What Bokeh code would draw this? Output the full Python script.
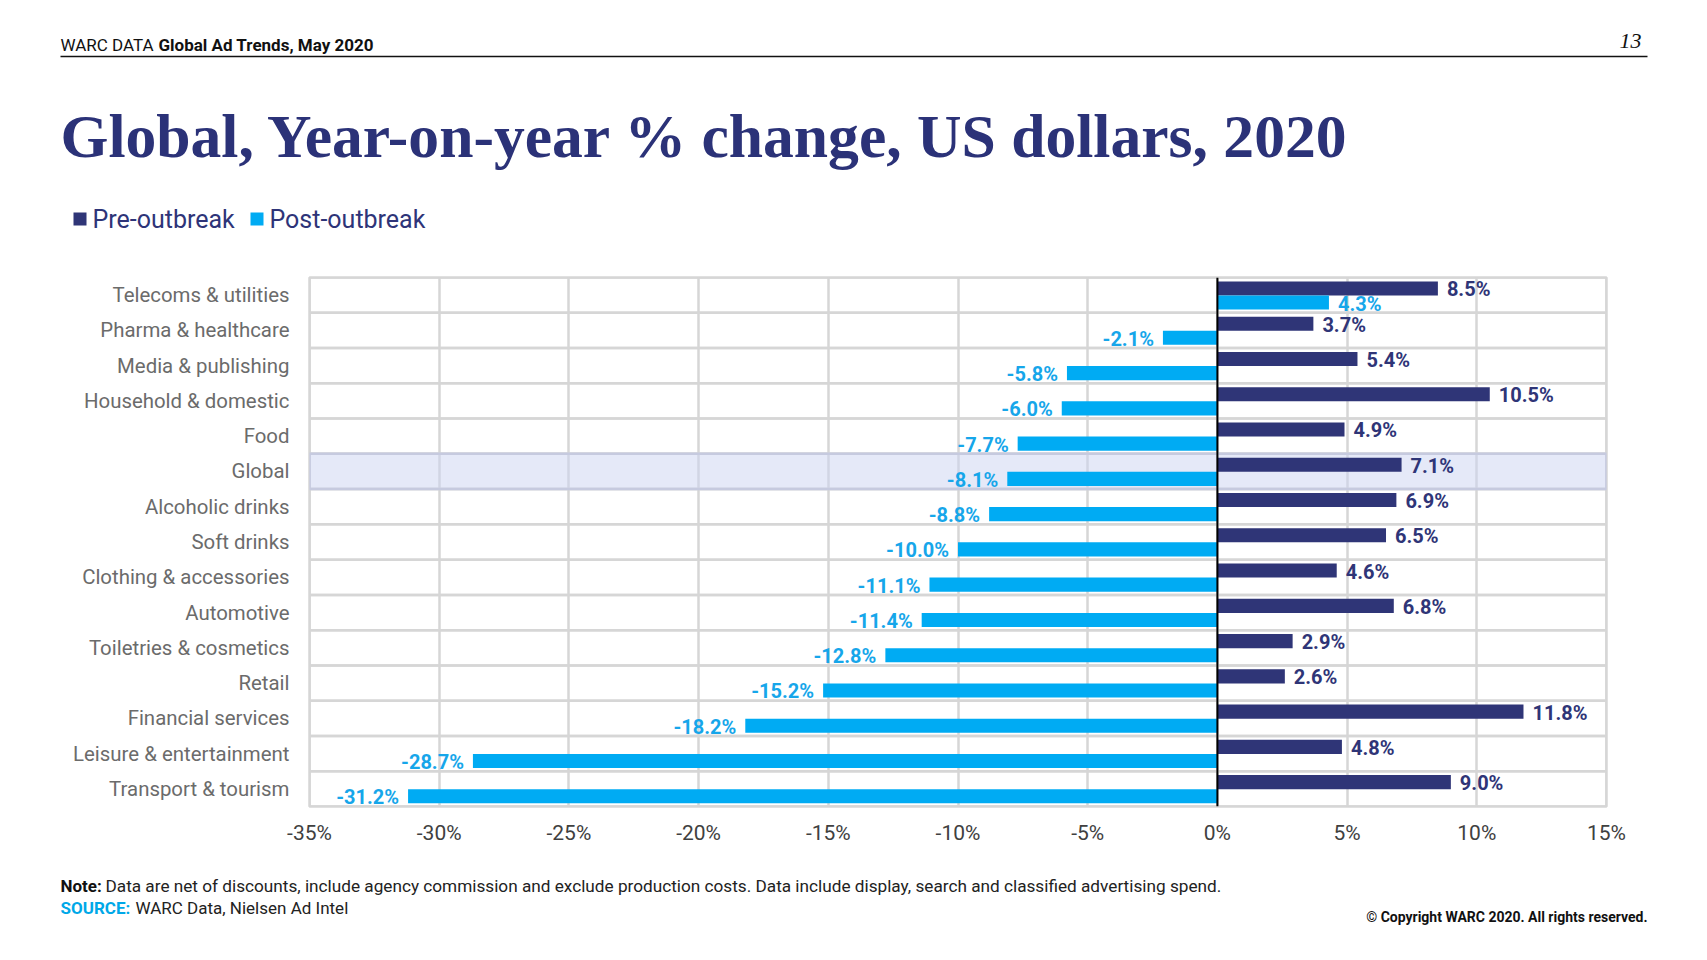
from bokeh.plotting import figure
from bokeh.models import ColumnDataSource, FactorRange, FixedTicker, Span, Range1d
from bokeh.transform import dodge
from bokeh.core.properties import value
from bokeh.embed import file_html
from bokeh.resources import INLINE

# ---------------- data ----------------
categories = [
    "Telecoms & utilities", "Pharma & healthcare", "Media & publishing",
    "Household & domestic", "Food", "Global", "Alcoholic drinks", "Soft drinks",
    "Clothing & accessories", "Automotive", "Toiletries & cosmetics", "Retail",
    "Financial services", "Leisure & entertainment", "Transport & tourism",
]
pre_outbreak = [8.5, 3.7, 5.4, 10.5, 4.9, 7.1, 6.9, 6.5, 4.6, 6.8, 2.9, 2.6, 11.8, 4.8, 9.0]
post_outbreak = [4.3, -2.1, -5.8, -6.0, -7.7, -8.1, -8.8, -10.0, -11.1, -11.4, -12.8, -15.2, -18.2, -28.7, -31.2]
series_names = ["Pre-outbreak", "Post-outbreak"]
tick_values = [-35, -30, -25, -20, -15, -10, -5, 0, 5, 10, 15]
tick_labels = ["-35%", "-30%", "-25%", "-20%", "-15%", "-10%", "-5%", "0%", "5%", "10%", "15%"]
highlight = "Global"
x_min, x_max = -35, 15

# ---------------- styles ----------------
NAVY = "#2f3577"
BLUE = "#00abf3"
BLUE_TXT = "#16a6ea"
GRID = "#d6d6d6"
W = 1691
H_HEAD, H_MAIN, H_FOOT = 267, 589, 88
FL, FR = 309, 1606          # frame left / right (px)
F_TOP, F_H = 10, 529        # frame top inside main figure, frame height
LEFT = 60                   # page text left edge
RIGHT = 1647                # page text right edge


def canvas(h):
    """A plain figure whose data units are pixels (y downward)."""
    f = figure(width=W, height=h, x_range=Range1d(0, W), y_range=Range1d(h, 0),
               x_axis_type=None, y_axis_type=None, output_backend="svg",
               toolbar_location=None, min_border=0)
    f.outline_line_color = None
    f.grid.grid_line_color = None
    f.background_fill_color = "white"
    f.border_fill_color = "white"
    return f


def txt(f, s, x, y, size, color, font="Roboto", style="normal", align="left", baseline="middle"):
    f.text(x=[x], y=[y], text=[s], text_font=value(font), text_font_size=f"{size}px",
           text_font_style=style, text_color=color, text_align=align, text_baseline=baseline)


# ---------------- header ----------------
head = canvas(H_HEAD)
txt(head, "WARC DATA", LEFT, 44, 17, "#111111")
txt(head, "Global Ad Trends, May 2020", 158, 44, 17, "#111111", style="bold")
txt(head, "13", RIGHT - 6, 40, 22, "#111111", font="Liberation Serif", style="italic", align="right")
head.segment(x0=[LEFT], y0=[56], x1=[RIGHT], y1=[56], line_color="#111111", line_width=1.5)
txt(head, "Global, Year-on-year % change, US dollars, 2020", LEFT, 135, 61.6, "#2b3278",
    font="Liberation Serif", style="bold", baseline="alphabetic")
head.quad(left=[73], right=[86], top=[212], bottom=[225], fill_color=NAVY, line_color=None)
txt(head, series_names[0], 92, 219, 25, "#2e3478")
head.quad(left=[250], right=[263], top=[212], bottom=[225], fill_color=BLUE, line_color=None)
txt(head, series_names[1], 269, 219, 25, "#2e3478")

# ---------------- main chart ----------------
def fmt(v):
    return f"{v:.1f}%"

src = ColumnDataSource(dict(
    cat=categories,
    pre=pre_outbreak,
    post=post_outbreak,
    pre_lbl=[fmt(v) for v in pre_outbreak],
    post_lbl=[fmt(v) for v in post_outbreak],
    pre_align=["left" if v >= 0 else "right" for v in pre_outbreak],
    post_align=["left" if v >= 0 else "right" for v in post_outbreak],
    pre_off=[9 if v >= 0 else -9 for v in pre_outbreak],
    post_off=[9 if v >= 0 else -9 for v in post_outbreak],
))

p = figure(width=W, height=H_MAIN,
           y_range=FactorRange(*reversed(categories)),
           x_range=Range1d(x_min, x_max),
           output_backend="svg", toolbar_location=None,
           min_border_left=FL, min_border_right=W - FR,
           min_border_top=F_TOP, min_border_bottom=H_MAIN - F_TOP - F_H)
p.background_fill_color = "white"
p.border_fill_color = "white"
p.outline_line_color = GRID
p.outline_line_width = 2.5

p.xgrid.ticker = FixedTicker(ticks=tick_values)
p.xgrid.grid_line_color = GRID
p.xgrid.grid_line_width = 2.5
p.ygrid.grid_line_color = None

# row boxes
p.hbar(y=categories, left=x_min, right=x_max, height=1,
       fill_color=None, line_color=GRID, line_width=2.5)
# highlighted row
p.hbar(y=[highlight], left=x_min, right=x_max, height=1,
       fill_color="#ccd3f1", fill_alpha=0.5, line_color="#c6cadf", line_width=2.5)

# bars
p.hbar(y=dodge("cat", 0.19, range=p.y_range), left=0, right="pre", height=0.4,
       source=src, fill_color=NAVY, line_color=None)
p.hbar(y=dodge("cat", -0.21, range=p.y_range), left=0, right="post", height=0.4,
       source=src, fill_color=BLUE, line_color=None)

p.add_layout(Span(location=0, dimension="height", line_color="black", line_width=2))

p.text(x="pre", y=dodge("cat", 0.19, range=p.y_range), text="pre_lbl", source=src,
       text_align="pre_align", x_offset="pre_off", y_offset=1,
       text_baseline="middle", text_font=value("Roboto"), text_font_style="bold",
       text_font_size="20px", text_color=NAVY)
p.text(x="post", y=dodge("cat", -0.21, range=p.y_range), text="post_lbl", source=src,
       text_align="post_align", x_offset="post_off", y_offset=1,
       text_baseline="middle", text_font=value("Roboto"), text_font_style="bold",
       text_font_size="20px", text_color=BLUE_TXT)

p.xaxis.ticker = FixedTicker(ticks=tick_values)
p.xaxis.major_label_overrides = {v: l for v, l in zip(tick_values, tick_labels)}
for ax in (p.xaxis[0], p.yaxis[0]):
    ax.axis_line_color = None
    ax.major_tick_line_color = None
    ax.minor_tick_line_color = None
    ax.major_tick_out = 0
    ax.major_tick_in = 0
    ax.major_label_text_font = "Roboto"
p.xaxis.major_label_text_font_size = "21px"
p.xaxis.major_label_text_color = "#404040"
p.xaxis.major_label_standoff = 14
p.yaxis.major_label_text_font_size = "20.4px"
p.yaxis.major_label_text_color = "#6b6b6b"
p.yaxis.major_label_standoff = 20

# ---------------- footer ----------------
foot = canvas(H_FOOT)
y0 = H_HEAD + H_MAIN
txt(foot, "Note:", LEFT, 885 - y0, 17, "#111111", style="bold")
txt(foot, "Data are net of discounts, include agency commission and exclude production costs. "
    "Data include display, search and classified advertising spend.", 105, 885 - y0, 17.2, "#222222")
txt(foot, "SOURCE:", LEFT, 907 - y0, 17, "#00a8e8", style="bold")
txt(foot, "WARC Data, Nielsen Ad Intel", 135, 907 - y0, 17, "#222222")
txt(foot, "\u00a9 Copyright WARC 2020. All rights reserved.", RIGHT, 916 - y0, 14, "#111111",
    style="bold", align="right")

open("out.html", "w").write(file_html([head, p, foot], INLINE))
